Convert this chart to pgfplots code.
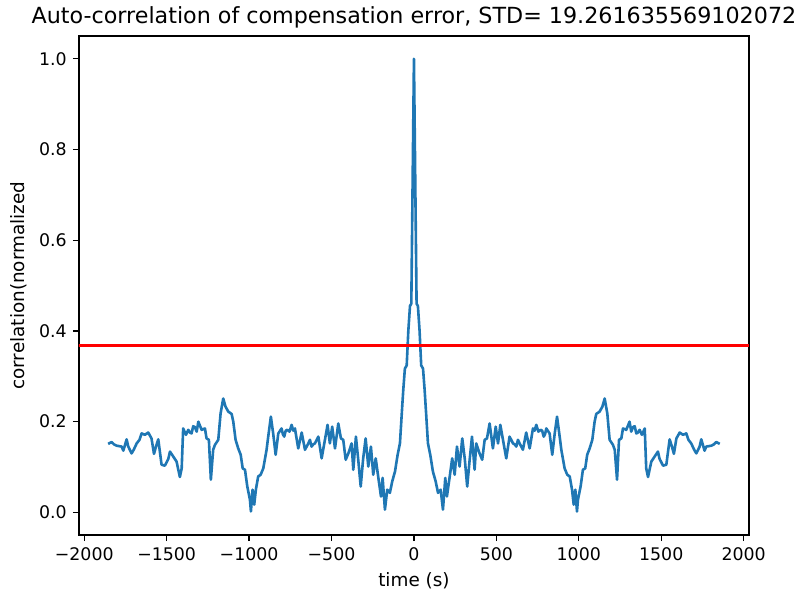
\documentclass[border=0pt]{standalone}
\usepackage{pgfplots}
\pgfplotsset{compat=1.18}
\usepackage{fontspec}
\setmainfont{DejaVu Sans}
\definecolor{mplblue}{HTML}{1F77B4}
\begin{document}
\fontsize{10}{12}\selectfont
\begin{tikzpicture}
\useasboundingbox (-45.5pt,-37.4pt) rectangle (415.9pt,308.2pt);
\begin{axis}[
  at={(0,0)}, anchor=south west,
  scale only axis, width=385.9pt, height=287.4pt,
  xmin=-2032, xmax=2032, ymin=-0.05, ymax=1.05,
  axis line style={line width=0.8pt, black},
  tick style={line width=0.8pt, black},
  tick align=outside, major tick length=3.5pt,
  xtick pos=lower, ytick pos=left,
  xtick={-2000,-1500,-1000,-500,0,500,1000,1500,2000},
  xticklabels={−2000,−1500,−1000,−500,0,500,1000,1500,2000},
  ytick={0,0.2,0.4,0.6,0.8,1.0},
  yticklabels={0.0,0.2,0.4,0.6,0.8,1.0},
  ticklabel style={font=\fontsize{10}{12}\selectfont},
  label style={font=\fontsize{10.6}{12.7}\selectfont},
  xlabel={time (s)},
  ylabel={correlation(normalized},
  title={Auto-correlation of compensation error, STD= 19.261635569102072},
  title style={font=\fontsize{12.8}{15}\selectfont, yshift=-5pt},
  /pgf/number format/assume math mode=true,
]
\addplot[mplblue, line width=1.5pt, line join=round] coordinates {
(-1855,0.151) (-1834,0.155) (-1820,0.150) (-1804,0.147) (-1773,0.145) (-1763,0.136) (-1743,0.161)
(-1733,0.145) (-1713,0.130) (-1700,0.138) (-1682,0.152) (-1665,0.160) (-1652,0.174) (-1632,0.171) (-1612,0.176)
(-1592,0.163) (-1577,0.129) (-1565,0.145) (-1551,0.161) (-1531,0.105) (-1511,0.103)
(-1490,0.118) (-1480,0.134) (-1460,0.123) (-1440,0.112) (-1420,0.078) (-1409,0.097) (-1400,0.185)
(-1383,0.171) (-1369,0.182) (-1359,0.176) (-1349,0.174) (-1339,0.190) (-1329,0.188) (-1318,0.178) (-1308,0.200) (-1288,0.182)
(-1268,0.185) (-1258,0.163) (-1244,0.160) (-1232,0.072) (-1218,0.138) (-1207,0.149)
(-1187,0.160) (-1173,0.218) (-1157,0.251) (-1143,0.233) (-1126,0.222) (-1106,0.217)
(-1096,0.200) (-1082,0.160) (-1066,0.141) (-1051,0.127) (-1039,0.097) (-1025,0.094)
(-1011,0.057) (-995,0.028) (-989,0.002) (-979,0.050) (-969,0.017) (-959,0.050)
(-945,0.079) (-930,0.083) (-914,0.097) (-894,0.138) (-884,0.167) (-868,0.211)
(-854,0.174) (-839,0.127) (-823,0.174) (-803,0.185) (-795,0.172) (-787,0.167) (-778,0.180) (-769,0.182)
(-755,0.178) (-742,0.193) (-732,0.180) (-722,0.185) (-702,0.141) (-681,0.176) (-661,0.138) (-641,0.152)
(-631,0.160) (-621,0.145) (-611,0.150) (-601,0.152) (-590,0.160) (-580,0.167) (-560,0.119) (-540,0.160) (-524,0.193)
(-510,0.152) (-496,0.189) (-479,0.141) (-459,0.196) (-443,0.163) (-429,0.160)
(-414,0.116) (-398,0.130) (-378,0.152) (-368,0.094) (-352,0.167) (-338,0.116)
(-323,0.057) (-308,0.119) (-293,0.163) (-277,0.101) (-261,0.145) (-247,0.083)
(-232,0.119) (-217,0.079) (-200,0.035) (-190,0.076) (-176,0.006) (-162,0.050)
(-146,0.043) (-132,0.068) (-115,0.090) (-99,0.127) (-85,0.152) (-75,0.211)
(-65,0.269) (-55,0.317) (-44,0.324) (-34,0.401) (-24,0.455) (-16,0.460)
(0,1.000)
(16,0.460) (24,0.455) (34,0.401) (44,0.324) (55,0.317) (65,0.269)
(75,0.211) (85,0.152) (99,0.127) (115,0.090) (132,0.068) (146,0.043)
(162,0.050) (176,0.006) (190,0.076) (200,0.035) (217,0.079) (232,0.119)
(247,0.083) (261,0.145) (277,0.101) (293,0.163) (308,0.119) (323,0.057)
(338,0.116) (352,0.167) (368,0.094) (378,0.152) (398,0.130) (414,0.116)
(429,0.160) (443,0.163) (459,0.196) (479,0.141) (496,0.189) (510,0.152)
(524,0.193) (540,0.160) (560,0.119) (580,0.167) (590,0.160) (601,0.152) (611,0.150) (621,0.145)
(631,0.160) (641,0.152) (661,0.138) (681,0.176) (702,0.141) (722,0.185) (732,0.180) (742,0.193)
(755,0.178) (769,0.182) (778,0.180) (787,0.167) (795,0.172) (803,0.185) (823,0.174) (839,0.127) (854,0.174)
(868,0.211) (884,0.167) (894,0.138) (914,0.097) (930,0.083) (945,0.079)
(959,0.050) (969,0.017) (979,0.050) (989,0.002) (995,0.028) (1011,0.057)
(1025,0.094) (1039,0.097) (1051,0.127) (1066,0.141) (1082,0.160) (1096,0.200)
(1106,0.217) (1126,0.222) (1143,0.233) (1157,0.251) (1173,0.218) (1187,0.160)
(1207,0.149) (1218,0.138) (1232,0.072) (1244,0.160) (1258,0.163) (1268,0.185)
(1288,0.182) (1308,0.200) (1318,0.178) (1329,0.188) (1339,0.190) (1349,0.174) (1359,0.176) (1369,0.182) (1383,0.171)
(1400,0.185) (1409,0.097) (1420,0.078) (1440,0.112) (1460,0.123) (1480,0.134) (1490,0.118)
(1511,0.103) (1531,0.105) (1551,0.161) (1565,0.145) (1577,0.129) (1592,0.163)
(1612,0.176) (1632,0.171) (1652,0.174) (1665,0.160) (1682,0.152) (1700,0.138) (1713,0.130) (1733,0.145)
(1743,0.161) (1763,0.136) (1773,0.145) (1804,0.147) (1820,0.150) (1834,0.155) (1855,0.151)
};
\addplot[red, line width=1.5pt] coordinates {(-2100,0.3679) (2100,0.3679)};
\end{axis}
\end{tikzpicture}
\end{document}
